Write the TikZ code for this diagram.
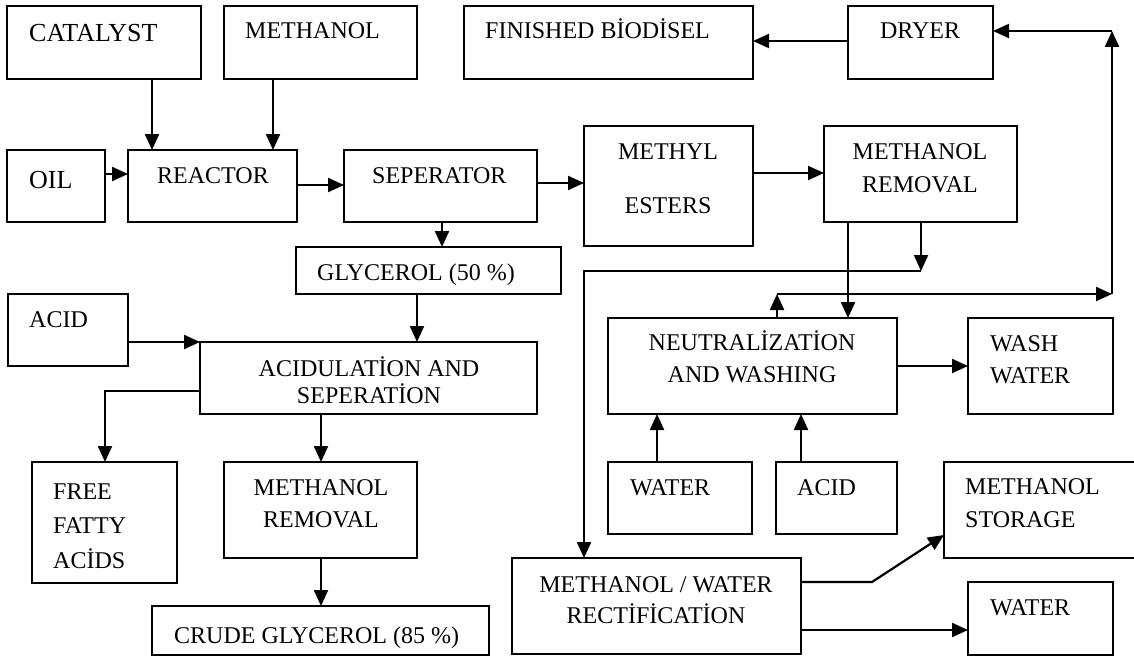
\documentclass[tikz,border=0pt]{standalone}
\usepackage{fontspec}
\setmainfont{Liberation Serif}
\usetikzlibrary{arrows.meta}
\tikzset{
  box/.style={draw, line width=1.3pt, inner sep=0pt, outer sep=0pt},
  arr/.style={line width=2.2pt, -{Triangle[length=16pt,width=14pt]}},
  lt/.style={anchor=base west, inner sep=0pt, font=\fontsize{24}{28}\selectfont},
  ct/.style={anchor=base, inner sep=0pt, font=\fontsize{24}{28}\selectfont},
}
\newcommand\bx[5]{\node[box,anchor=north west,minimum width={(#4-#2)*1pt},minimum height={(#5-#3)*1pt}] (#1) at (#2,#3) {};}
\begin{document}
\begin{tikzpicture}[x=1pt,y=-1pt]
\useasboundingbox[fill=white] (0,0) rectangle (1134,658);
% boxes
\bx{cat}{7}{6}{201}{79}
\bx{met}{224}{6}{417}{79}
\bx{fin}{464}{6}{753}{79}
\bx{dry}{848}{6}{993}{79}
\bx{oil}{7}{150}{105}{222}
\bx{rea}{128}{150}{297}{222}
\bx{sep}{344}{150}{537}{222}
\bx{mes}{584}{126}{753}{246}
\bx{mr}{824}{126}{1017}{222}
\bx{gly}{296}{247}{561}{294}
\bx{acl}{8}{294}{128}{366}
\bx{acd}{200}{342}{537}{414}
\bx{ffa}{32}{462}{177}{583}
\bx{mrl}{224}{462}{417}{558}
\bx{cru}{152}{606}{489}{655}
\bx{neu}{608}{318}{897}{414}
\bx{wsh}{968}{318}{1113}{414}
\bx{wat}{608}{462}{752}{534}
\bx{acr}{776}{462}{897}{534}
\bx{mst}{944}{462}{1140}{558}
\bx{rec}{512}{558}{801}{654}
\bx{wlo}{968}{582}{1113}{655}
% texts
\node[lt,font=\fontsize{26}{30}\selectfont] (tcat) at (29,42) {CATALYST};
\node[lt] (tmet) at (245,39) {METHANOL};
\node[lt] (tfin) at (485,39) {FINISHED BİODİSEL};
\node[ct] (tdry) at (920,39) {DRYER};
\node[lt,font=\fontsize{26}{30}\selectfont] (toil) at (29,188) {OIL};
\node[lt] (trea) at (157,183) {REACTOR};
\node[lt] (tsep) at (372,183) {SEPERATOR};
\node[ct] (tmes1) at (668,159) {METHYL};
\node[ct] (tmes2) at (668,213) {ESTERS};
\node[ct] (tmr1) at (920,159) {METHANOL};
\node[ct] (tmr2) at (920,192) {REMOVAL};
\node[lt] (tgly) at (317,280) {GLYCEROL (50 \%)};
\node[lt] (tacl) at (29,327) {ACID};
\node[ct] (tacd1) at (369,376) {ACIDULATİON AND};
\node[ct] (tacd2) at (369,403) {SEPERATİON};
\node[lt] (tffa1) at (53,499) {FREE};
\node[lt] (tffa2) at (53,533) {FATTY};
\node[lt] (tffa3) at (53,568) {ACİDS};
\node[ct] (tmrl1) at (321,495) {METHANOL};
\node[ct] (tmrl2) at (321,527) {REMOVAL};
\node[lt] (tcru) at (174,643) {CRUDE GLYCEROL (85 \%)};
\node[ct] (tneu1) at (752,350) {NEUTRALİZATİON};
\node[ct] (tneu2) at (752,382) {AND WASHING};
\node[lt] (twsh1) at (990,351) {WASH};
\node[lt] (twsh2) at (990,383) {WATER};
\node[lt] (twat) at (630,495) {WATER};
\node[lt] (tacr) at (797,495) {ACID};
\node[lt] (tmst1) at (965,494) {METHANOL};
\node[lt] (tmst2) at (965,527) {STORAGE};
\node[ct] (trec1) at (656,592) {METHANOL / WATER};
\node[ct] (trec2) at (656,623) {RECTİFİCATİON};
\node[lt] (twlo) at (990,615) {WATER};
% junction coordinates
\coordinate (j1) at (921,271);
\coordinate (j2) at (584,271);
\coordinate (j3) at (777,294);
\coordinate (j4) at (1112,294);
\coordinate (j5) at (1112,31);
\coordinate (j6) at (105,391);
\coordinate (j7) at (872,582);
% connectors
\draw[arr] (152,0 |- cat.south) -- (152,0 |- rea.north);
\draw[arr] (273,0 |- met.south) -- (273,0 |- rea.north);
\draw[arr] (oil.east |- 0,174) -- (rea.west |- 0,174);
\draw[arr] (rea.east |- 0,185) -- (sep.west |- 0,185);
\draw[arr] (sep.east |- 0,183) -- (mes.west |- 0,183);
\draw[arr] (mes.east |- 0,173) -- (mr.west |- 0,173);
\draw[arr] (dry.west |- 0,41) -- (fin.east |- 0,41);
\draw[arr] (442,0 |- sep.south) -- (442,0 |- gly.north);
\draw[arr] (417,0 |- gly.south) -- (417,0 |- acd.north);
\draw[arr] (acl.east |- acd.north) -- (acd.north west);
\draw[arr] (acd.west |- j6) -- (j6) -- (j6 |- ffa.north);
\draw[arr] (321,0 |- acd.south) -- (321,0 |- mrl.north);
\draw[arr] (321,0 |- mrl.south) -- (321,0 |- cru.north);
\draw[arr] (848,0 |- mr.south) -- (848,0 |- neu.north);
\draw[arr] (j1 |- mr.south) -- (j1);
\draw[arr] (j1) -- (j2) -- (j2 |- rec.north);
\draw[arr] (j3 |- neu.north) -- (j3);
\draw[arr] (j3) -- (j4);
\draw[arr] (j4) -- (j5);
\draw[arr] (j5) -- (dry.east |- j5);
\draw[arr] (neu.east |- 0,366) -- (wsh.west |- 0,366);
\draw[arr] (657,0 |- wat.north) -- (657,0 |- neu.south);
\draw[arr] (801,0 |- acr.north) -- (801,0 |- neu.south);
\draw[arr] (rec.east |- j7) -- (j7) -- (mst.west |- 0,535);
\draw[arr] (rec.east |- 0,630) -- (wlo.west |- 0,630);
\end{tikzpicture}
\end{document}
